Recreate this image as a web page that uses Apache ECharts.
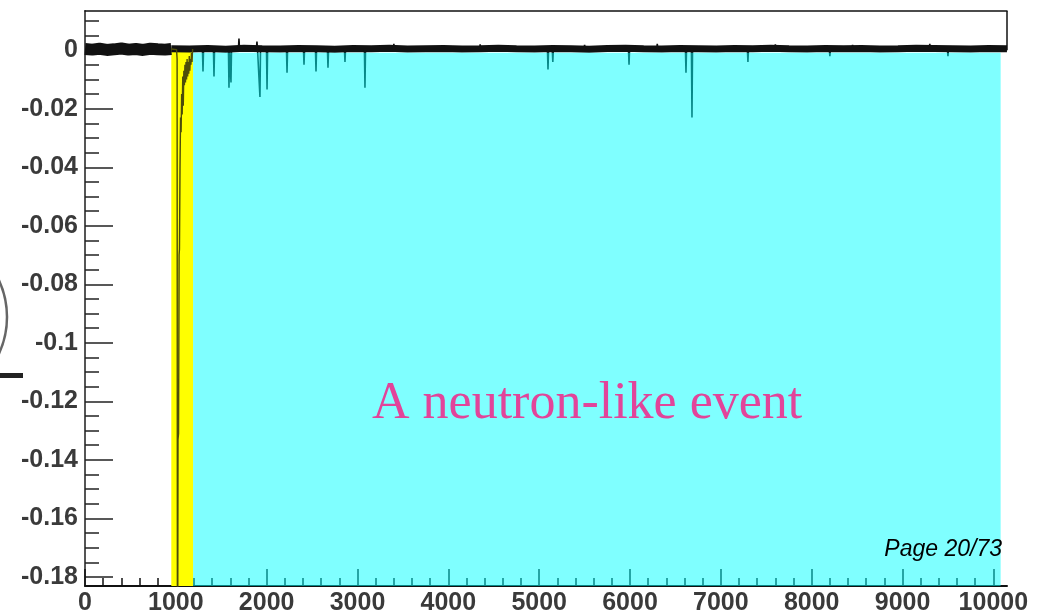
<!DOCTYPE html>
<html><head><meta charset="utf-8">
<script src="https://cdn.jsdelivr.net/npm/echarts@6/dist/echarts.min.js"></script>
<style>html,body{margin:0;padding:0;background:#fff}#c{width:1059px;height:616px}</style>
</head><body><div id="c"></div>
<script>
// axis ranges
const xMin = 0, xMax = 10150;
const yMin = -0.1831, yMax = 0.0134;

// tick labels / tick positions
const xTickLabels = [0,1000,2000,3000,4000,5000,6000,7000,8000,9000,10000];
const xMinorTicks = [200,400,600,800,1200,1400,1600,1800,2200,2400,2600,2800,3200,3400,3600,3800,4200,4400,4600,4800,5200,5400,5600,5800,6200,6400,6600,6800,7200,7400,7600,7800,8200,8400,8600,8800,9200,9400,9600,9800];
const yTickLabels = [0,-0.02,-0.04,-0.06,-0.08,-0.1,-0.12,-0.14,-0.16,-0.18];
const yMinorTicks = [0.01,0.005,-0.005,-0.01,-0.015,-0.025,-0.03,-0.035,-0.045,-0.05,-0.055,-0.065,-0.07,-0.075,-0.085,-0.09,-0.095,-0.105,-0.11,-0.115,-0.125,-0.13,-0.135,-0.145,-0.15,-0.155,-0.165,-0.17,-0.175];

// shaded windows
const yellowWindow = [950, 1190, 0.0008];
const cyanWindow = [1190, 10080, -0.0009];

// baseline noise before the trigger
const leftNoiseX = [0,80,160,240,320,400,480,560,640,720,800,880,950];
const leftNoiseY = [0.0004,0.0002,0.0005,0.0001,0.0003,0.0006,0.0002,0.0004,0.0001,0.0005,0.0003,0.0002,0.0004];

// baseline noise after the trigger
const rightNoiseX = [950,1150,1350,1550,1750,1950,2150,2350,2550,2750,2950,3150,3350,3550,3750,3950,4150,4350,4550,4750,4950,5150,5350,5550,5750,5950,6150,6350,6550,6750,6950,7150,7350,7550,7750,7950,8150,8350,8550,8750,8950,9150,9350,9550,9750,9950,10150];
const rightNoiseY = [0.0005,0.0004,0.0006,0.0003,0.0007,0.0005,0.0004,0.0006,0.0005,0.0003,0.0006,0.0005,0.0007,0.0004,0.0005,0.0006,0.0004,0.0005,0.0007,0.0005,0.0004,0.0006,0.0005,0.0003,0.0006,0.0007,0.0005,0.0004,0.0006,0.0005,0.0004,0.0006,0.0005,0.0007,0.0005,0.0004,0.0006,0.0005,0.0006,0.0004,0.0005,0.0007,0.0006,0.0005,0.0004,0.0006,0.0005];

// main prompt pulse
const pulseX = [950,1008,1014,1018,1024,1030,1036,1040,1046,1052,1058,1064,1070,1076,1082,1088,1094,1100,1106,1112,1118,1124,1130,1136,1142,1148,1154,1160,1166,1172,1178,1185];
const pulseY = [0.0004,0.0002,-0.003,-0.26,-0.133,-0.131,-0.07,-0.068,-0.04,-0.023,-0.028,-0.015,-0.022,-0.009,-0.019,-0.007,-0.012,-0.005,-0.011,-0.004,-0.010,-0.003,-0.009,-0.004,-0.008,-0.002,-0.007,-0.003,-0.005,-0.001,-0.004,0.0004];

// isolated spikes (position, peak value)
const spikeX = [1299,1420,1585,1607,1695,1893,1926,2004,2224,2411,2543,2675,2862,3082,3400,4350,5097,5150,5500,5989,6300,6616,6682,7298,7600,8200,8450,9300,9500];
const spikeY = [-0.0073,-0.009,-0.0128,-0.011,0.004,0.003,-0.016,-0.0134,-0.0077,-0.005,-0.0073,-0.006,-0.004,-0.0128,0.0022,0.002,-0.0066,-0.004,0.0018,-0.005,0.0022,-0.0077,-0.023,-0.004,0.002,-0.002,0.0018,0.0022,-0.002];

const zip = (a, b) => a.map((v, i) => [v, b[i]]);
const spikeData = [];
spikeX.forEach((x, i) => { spikeData.push([x - 6, 0.0004], [x, spikeY[i]], [x + 6, 0.0004]); });

const labelFont = { fontSize: 25, fontWeight: 'bold', color: '#3a3a3a', fontFamily: 'Liberation Sans' };

const chart = echarts.init(document.getElementById('c'), null, { renderer: 'canvas' });
chart.setOption({
  animation: false,
  backgroundColor: '#fff',
  grid: { left: 85, right: 52, top: 11, bottom: 27, containLabel: false },
  xAxis: [
    { type: 'value', min: xMin, max: xMax, position: 'bottom',
      axisLine: { show: true, onZero: false, lineStyle: { color: '#111', width: 2 } },
      axisTick: { show: true, inside: true, length: 17, customValues: xTickLabels, lineStyle: { color: '#111', width: 1.5 } },
      axisLabel: Object.assign({ customValues: xTickLabels, margin: 5, formatter: v => String(v) }, labelFont),
      splitLine: { show: false } },
    { type: 'value', min: xMin, max: xMax, position: 'bottom',
      axisLine: { show: false, onZero: false },
      axisTick: { show: true, inside: true, length: 8, customValues: xMinorTicks, lineStyle: { color: '#111', width: 1.5 } },
      axisLabel: { show: false }, splitLine: { show: false } },
    { type: 'value', min: xMin, max: xMax, position: 'top',
      axisLine: { show: true, onZero: false, lineStyle: { color: '#111', width: 1.5 } },
      axisTick: { show: false }, axisLabel: { show: false }, splitLine: { show: false } }
  ],
  yAxis: [
    { type: 'value', min: yMin, max: yMax, position: 'left',
      axisLine: { show: true, onZero: false, lineStyle: { color: '#555', width: 2 } },
      axisTick: { show: true, inside: true, length: 28, customValues: yTickLabels, lineStyle: { color: '#222', width: 1.5 } },
      axisLabel: Object.assign({ customValues: yTickLabels, margin: 7, formatter: v => String(v) }, labelFont),
      splitLine: { show: false } },
    { type: 'value', min: yMin, max: yMax, position: 'left',
      axisLine: { show: false, onZero: false },
      axisTick: { show: true, inside: true, length: 14, customValues: yMinorTicks, lineStyle: { color: '#222', width: 1.5 } },
      axisLabel: { show: false }, splitLine: { show: false } }
  ],
  series: [
    { name: 'pulse', type: 'line', data: zip(pulseX, pulseY), showSymbol: false, z: 3,
      lineStyle: { color: '#4d4d0a', width: 1.4 }, silent: true,
      markArea: { silent: true, z: 1, itemStyle: { color: '#ffff00', borderWidth: 0 },
        data: [[{ coord: [yellowWindow[0], yellowWindow[2]] }, { coord: [yellowWindow[1], yMin] }]] } },
    { name: 'noiseLeft', type: 'line', data: zip(leftNoiseX, leftNoiseY), showSymbol: false, z: 2,
      lineStyle: { color: '#111', width: 12 }, silent: true },
    { name: 'noiseRight', type: 'line', data: zip(rightNoiseX, rightNoiseY), showSymbol: false, z: 2,
      lineStyle: { color: '#111', width: 7 }, silent: true,
      markLine: { silent: true, symbol: 'none', label: { show: false }, lineStyle: { color: '#111', width: 1.5, type: 'solid' },
        data: [[{ coord: [xMax, 0] }, { coord: [xMax, yMax] }]] } },
    { name: 'spikes', type: 'line', data: spikeData, showSymbol: false, z: 3,
      lineStyle: { color: '#111', width: 1.6 }, silent: true,
      markArea: { silent: true, z: 10, itemStyle: { color: 'rgba(0,255,255,0.5)', borderWidth: 0 },
        data: [[{ coord: [cyanWindow[0], cyanWindow[2]] }, { coord: [cyanWindow[1], yMin] }]] } }
  ],
  graphic: [
    { type: 'text', x: 372, y: 404, z: 100, silent: true,
      style: { text: 'A neutron-like event', font: '52px "Liberation Serif", "DejaVu Serif", serif', fill: '#e2449a', verticalAlign: 'middle' } },
    { type: 'text', x: 1002, y: 550, z: 100, silent: true,
      style: { text: 'Page 20/73', font: 'italic 23px "Liberation Sans", Arial, sans-serif', fill: '#000', align: 'right', verticalAlign: 'middle' } },
    { type: 'arc', z: 100, silent: true, shape: { cx: -81, cy: 317, r: 88, startAngle: -0.45, endAngle: 0.45 },
      style: { stroke: '#666', lineWidth: 2.5, fill: null } },
    { type: 'rect', z: 100, silent: true, shape: { x: 0, y: 373, width: 23, height: 5 }, style: { fill: '#222' } }
  ]
});
</script>
</body></html>
